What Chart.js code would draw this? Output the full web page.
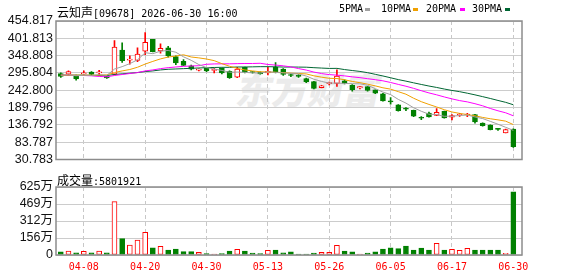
<!DOCTYPE html>
<html>
<head>
<meta charset="utf-8">
<script src="https://cdn.jsdelivr.net/npm/chart.js@4.4.1/dist/chart.umd.min.js"></script>
<style>
body { margin: 0; background: #fff; }
#wrap { position: relative; width: 578px; height: 276px; overflow: hidden; }
canvas { position: absolute; left: 0; top: 0; }
.t { position: absolute; font: 10px 'DejaVu Sans Mono', monospace; color: #000; white-space: nowrap; line-height: 12px; }
.cjk { font: 12px 'Noto Sans CJK SC'; }
.mk { position: absolute; width: 5px; height: 3px; top: 8px; }
#wm { position: absolute; left: 238px; top: 62px; font: 900 36px 'Noto Sans CJK SC'; color: #ebebeb; transform: skewX(-12deg); white-space: nowrap; }
</style>
</head>
<body>
<div id="wrap">
  <div id="wm">东方财富</div>
  <canvas id="kline" width="578" height="170"></canvas>
  <canvas id="vol" width="578" height="276"></canvas>
  <div class="t" style="left:57px;top:3px"><span class="cjk">云知声</span>[09678] 2026-06-30 16:00</div>
  <div class="t" style="left:339px;top:3px">5PMA</div><div class="mk" style="left:365px;background:#a0a0a0"></div>
  <div class="t" style="left:381px;top:3px">10PMA</div><div class="mk" style="left:413px;background:#f0a000"></div>
  <div class="t" style="left:426px;top:3px">20PMA</div><div class="mk" style="left:460px;background:#ff00ff"></div>
  <div class="t" style="left:472px;top:3px">30PMA</div><div class="mk" style="left:505px;background:#006633"></div>
  <div class="t" id="volText" style="left:57px;top:171px"></div>
</div>
<script>
var dates = ['03-31','04-01','04-02','04-08','04-09','04-10','04-13','04-14','04-15','04-16',
  '04-17','04-20','04-21','04-22','04-23','04-24','04-27','04-28','04-29','04-30',
  '05-04','05-05','05-06','05-07','05-08','05-11','05-12','05-13','05-14','05-15',
  '05-18','05-19','05-20','05-21','05-22','05-26','05-27','05-28','05-29','06-01',
  '06-02','06-03','06-04','06-05','06-08','06-09','06-10','06-11','06-12','06-15',
  '06-16','06-17','06-18','06-22','06-23','06-24','06-25','06-26','06-29','06-30'];
var xLabels = ['04-08','04-20','04-30','05-13','05-26','06-05','06-17','06-30'];

var open = [293.8,292.0,287.0,293.0,298.8,296.0,287.0,292.0,365.6,335.0,
  334.0,362.7,398.9,363.5,372.4,345.9,331.0,317.3,304.5,309.7,
  303.5,309.7,300.8,283.2,312.6,298.5,298.0,296.0,313.5,307.6,
  289.0,286.5,278.2,269.4,250.8,263.0,263.5,271.4,258.5,249.6,
  253.8,243.8,232.0,208.0,197.8,186.0,181.1,158.0,173.1,165.5,
  178.1,160.0,167.0,167.0,168.4,142.0,136.0,124.0,112.5,124.2];
var high = [296,302,289,302,300,304,288,395,388,348,
  373,419.5,399,385,377,348,337,320,308,311,
  310,311,302,313,314,300,299,313,327.8,309,
  293,291,280,270,258,268,305.5,275,260,254,
  254,244,233,220,199,190,182,162,176,187,
  179,168,172,172,169,143,137,126,124,124.5];
var low = [282,290,274,292,290,288,279,290,328,323,
  330,352,360,356,344,321,318,305,302,300,
  296,293,279,281,296,295,292,290,296,288,
  284,282,266,247,250,259,254.7,262,240,247,
  240,232,209,200,179,180,162,153,160,165,
  157,152,163,162,142,133,121,120,112,68];
var close = [285.0,299.7,277.3,296.0,290.9,297.0,280.2,375.3,333.2,337.0,
  353.8,389.2,360.6,371.5,348.0,326.2,319.0,307.6,306.0,301.8,
  305.5,295.9,281.1,307.6,297.9,297.2,293.0,301.0,297.9,290.9,
  288.0,285.5,269.4,248.7,256.7,264.0,286.2,263.5,244.9,253.8,
  242.0,234.1,210.5,207.0,180.2,185.0,163.4,157.0,161.3,175.2,
  158.4,165.0,168.0,169.0,145.7,134.0,122.2,123.0,122.2,70.0];
var volume = [300000,370000,210000,340000,210000,370000,210000,4900000,1500000,920000,
  1380000,2080000,670000,800000,460000,550000,310000,310000,250000,120000,
  90000,120000,370000,520000,370000,180000,120000,430000,460000,210000,
  280000,90000,90000,180000,250000,250000,890000,370000,280000,90000,
  180000,280000,550000,670000,580000,830000,460000,640000,460000,1070000,
  460000,520000,430000,610000,460000,460000,460000,460000,150000,5801921];

var ma5 = [289,290,287,289,288.2,290.4,288.1,307.7,315.1,324.3,
  335.9,357.7,354.8,362.4,364.6,359.1,345.1,334.5,321.4,312.1,
  308.0,303.4,298.1,298.4,297.6,295.9,295.4,299.3,297.4,296.0,
  294.2,292.7,286.3,276.5,269.7,264.7,264.8,263.6,262.9,262.3,
  258.1,247.7,237.1,229.5,214.8,203.4,189.2,178.5,169.4,168.4,
  163.1,163.4,165.4,166.9,161.0,156.1,147.6,138.8,129.4,120.0];
var ma10 = [289,289,289,289,289,289,290,297,302,306.3,
  313.2,322.9,331.2,338.8,344.5,347.5,351.4,344.6,341.9,338.4,
  333.5,324.2,316.3,309.9,304.9,302.0,299.4,298.7,297.9,296.8,
  295.1,294.0,292.8,287.0,282.8,279.4,278.7,275.0,269.7,266.0,
  261.4,256.2,250.3,246.2,238.5,230.7,218.4,207.8,199.4,191.6,
  183.2,176.3,172.0,168.2,164.7,159.6,155.5,152.1,148.2,137.7];
var ma20 = [289,289,288,288,287,285,284,288,291,294,
  297,302,305,309,312,314,316,317,318,322.3,
  323.4,323.6,323.7,324.3,324.7,324.7,325.4,321.7,319.9,317.6,
  314.3,309.1,304.6,298.4,293.8,290.7,289.0,286.8,283.8,281.4,
  278.2,275.1,271.6,266.6,260.7,255.1,248.6,241.4,234.6,228.8,
  222.3,216.3,211.1,207.2,201.6,195.2,187.0,179.9,173.8,164.6];
var ma30 = [289,289,289,289,288,288,288,291,293,295,
  297,300,302,305,307,308,309,310,311,312,
  312.5,313,313,314,314,314.5,315,315,314.5,313.8,
  313.9,313.7,313.4,311.9,310.7,309.6,309.8,306.1,303.2,300.4,
  296.7,291.5,286.5,281.0,275.4,270.7,265.5,260.5,255.7,251.4,
  246.5,242.2,238.4,233.8,228.7,223.2,217.6,211.6,205.8,198.4];

var priceTicks = [30.783, 83.787, 136.792, 189.796, 242.800, 295.804, 348.808, 401.813, 454.817];
var priceLabels = ['30.783','83.787','136.792','189.796','242.800','295.804','348.808','401.813','454.817'];
var volTicks = [0, 1562500, 3125000, 4687500, 6250000];
var volLabels = ['0','156万','312万','469万','625万'];

var RED = '#ff0000', GREEN = '#008000';
var tickIdx = xLabels.map(function(d){ return dates.indexOf(d); });
var up = close.map(function(c, i){ return c >= open[i]; });
document.getElementById('volText').innerHTML = '<span class="cjk">成交量</span>:' + volume[volume.length - 1];

var frame = {
  id: 'frame',
  afterDraw: function(c) {
    var a = c.chartArea, ctx = c.ctx;
    ctx.save();
    ctx.strokeStyle = '#8c8c8c';
    ctx.lineWidth = 1.5;
    ctx.strokeRect(a.left, a.top, a.right - a.left, a.bottom - a.top);
    ctx.restore();
  }
};

function xAxis(showLabels) {
  return {
    type: 'linear', min: -0.625, max: 60.13, bounds: 'data', offset: false,
    afterBuildTicks: function(a){ a.ticks = tickIdx.map(function(v){ return {value: v}; }); },
    grid: {color: '#c8c8c8', lineWidth: 1, drawTicks: false, offset: false},
    border: {display: false, dash: [4, 3]},
    ticks: {display: showLabels, color: RED, autoSkip: false, maxRotation: 0, padding: 6,
      font: {family: "'DejaVu Sans Mono'", size: 10},
      callback: function(v){ return dates[v]; }},
    afterFit: function(a){ a.height = showLabels ? 21 : 0; }
  };
}

function yAxis(min, max, vals, labels) {
  return {
    min: min, max: max, bounds: 'data', beginAtZero: false,
    afterBuildTicks: function(a){ a.ticks = vals.map(function(v){ return {value: v}; }); },
    grid: {color: '#cccccc', lineWidth: 1, drawTicks: false},
    border: {display: false},
    ticks: {color: '#111', autoSkip: false, padding: 3,
      font: {family: "'Liberation Sans', 'Noto Sans CJK SC'", size: 12.5},
      callback: function(v, i){ return labels[i]; }},
    afterFit: function(a){ a.width = 56; }
  };
}

function pts(arr) { return arr.map(function(v, i){ return {x: i, y: v}; }); }
function maLine(arr, color) {
  return {type: 'line', data: pts(arr), borderColor: color, borderWidth: 1,
    pointRadius: 0, tension: 0, fill: false, order: 0};
}

new Chart(document.getElementById('kline'), {
  type: 'bar',
  data: {
    datasets: [
      maLine(ma5, '#a0a0a0'),
      maLine(ma10, '#f0a000'),
      maLine(ma20, '#ff00ff'),
      maLine(ma30, '#006633'),
      {
        data: open.map(function(o, i){ return {x: i, y: [o, close[i]]}; }),
        backgroundColor: up.map(function(u){ return u ? '#ffffff' : GREEN; }),
        borderColor: up.map(function(u){ return u ? RED : GREEN; }),
        borderWidth: 1, borderSkipped: false, barThickness: 5, minBarLength: 1,
        grouped: false, order: 1
      },
      {
        data: low.map(function(l, i){ return {x: i, y: [l, high[i]]}; }),
        backgroundColor: up.map(function(u){ return u ? RED : GREEN; }),
        borderWidth: 0, barThickness: 1, grouped: false, order: 2
      }
    ]
  },
  options: {
    responsive: false, animation: false,
    layout: {padding: {top: 21, right: 56, bottom: 5, left: 0}},
    plugins: {legend: {display: false}, tooltip: {enabled: false}},
    scales: {x: xAxis(false), y: yAxis(30.783, 454.817, priceTicks, priceLabels)}
  },
  plugins: [frame]
});

new Chart(document.getElementById('vol'), {
  type: 'bar',
  data: {
    datasets: [{
      data: pts(volume),
      backgroundColor: up.map(function(u){ return u ? '#ffffff' : GREEN; }),
      borderColor: up.map(function(u){ return u ? RED : GREEN; }),
      borderWidth: 1, borderSkipped: false, barThickness: 5, grouped: false
    }]
  },
  options: {
    responsive: false, animation: false,
    layout: {padding: {top: 187, right: 56, bottom: 0, left: 0}},
    plugins: {legend: {display: false}, tooltip: {enabled: false}},
    scales: {x: xAxis(true), y: yAxis(0, 6250000, volTicks, volLabels)}
  },
  plugins: [frame]
});
</script>
</body>
</html>
